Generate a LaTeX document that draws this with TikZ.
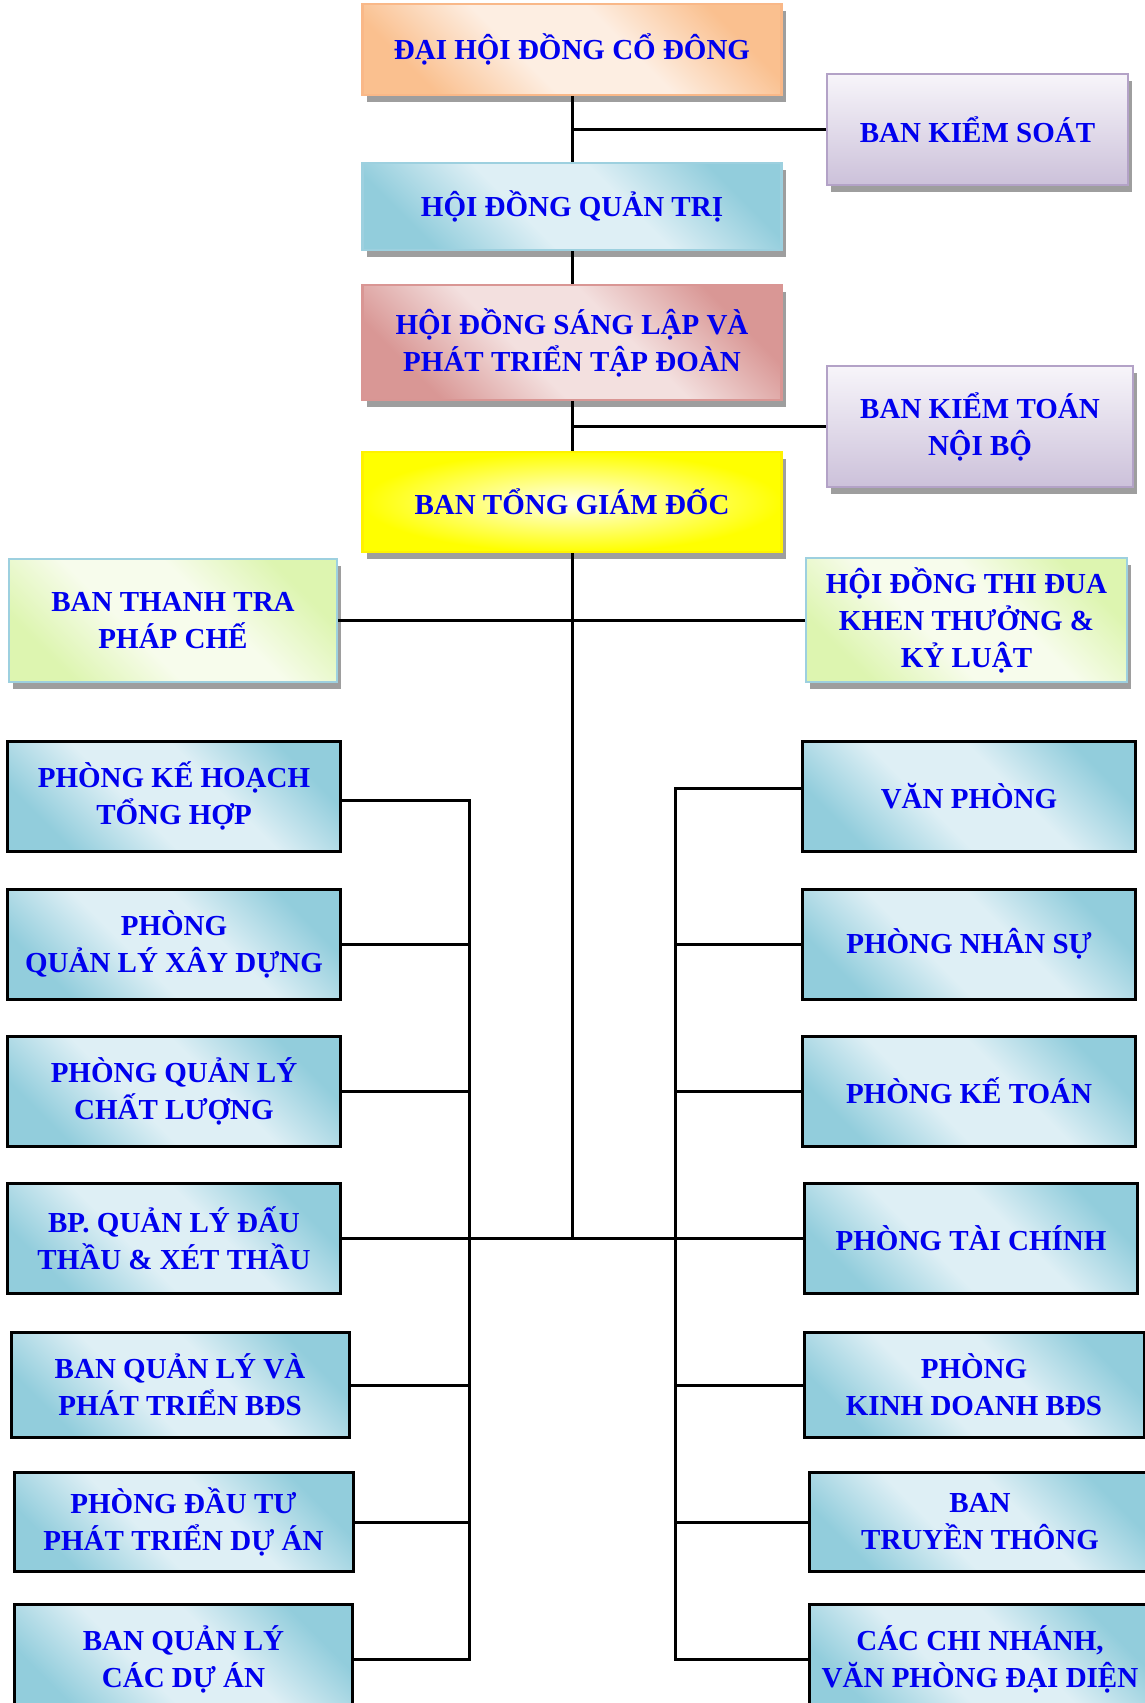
\documentclass[tikz,border=0pt]{standalone}
\usepackage{fontspec}
\setmainfont{Liberation Serif}
\usepackage{xcolor}
\usepackage{tikz}
\usetikzlibrary{shapes.geometric, shadows}
\definecolor{chuxanh}{HTML}{0000EE}
\definecolor{camdam}{HTML}{FAC08F}
\definecolor{camnhat}{HTML}{FDEEE2}
\definecolor{camvien}{HTML}{F9B888}
\definecolor{xanhdam}{HTML}{92CDDC}
\definecolor{xanhnhat}{HTML}{DEEFF5}
\definecolor{xanhvien}{HTML}{9DD0DF}
\definecolor{hongdam}{HTML}{D99795}
\definecolor{hongnhat}{HTML}{F3E0DF}
\definecolor{hongvien}{HTML}{D99694}
\definecolor{timdam}{HTML}{CCC1DA}
\definecolor{timnhat}{HTML}{F7F5FA}
\definecolor{timvien}{HTML}{B3A2C7}
\definecolor{ladam}{HTML}{DDF5B0}
\definecolor{lanhat}{HTML}{F7FCEC}
\pgfdeclareverticalshading{xanhbong}{100bp}{color(0bp)=(xanhdam); color(25bp)=(xanhdam); color(42bp)=(xanhnhat); color(58bp)=(xanhnhat); color(75bp)=(xanhdam); color(100bp)=(xanhdam)}
\pgfdeclareverticalshading{cambong}{100bp}{color(0bp)=(camdam); color(25bp)=(camdam); color(42bp)=(camnhat); color(58bp)=(camnhat); color(75bp)=(camdam); color(100bp)=(camdam)}
\pgfdeclareverticalshading{hongbong}{100bp}{color(0bp)=(hongdam); color(25bp)=(hongdam); color(42bp)=(hongnhat); color(58bp)=(hongnhat); color(75bp)=(hongdam); color(100bp)=(hongdam)}
\pgfdeclareverticalshading{labong}{100bp}{color(0bp)=(ladam); color(25bp)=(ladam); color(42bp)=(lanhat); color(58bp)=(lanhat); color(75bp)=(ladam); color(100bp)=(ladam)}
\tikzstyle{chu} = [align=center, text=chuxanh, font=\fontsize{14.5}{18.5}\selectfont\bfseries]
\tikzstyle{capcao} = [rectangle, chu, minimum width=209.5pt, line width=1.2pt, drop shadow={shadow xshift=2pt, shadow yshift=-3.5pt, fill=black!38, opacity=1}]
\tikzstyle{cam} = [capcao, draw=camvien, shade, shading=cambong, shading angle=-45]
\tikzstyle{xanh} = [capcao, draw=xanhvien, shade, shading=xanhbong, shading angle=-45]
\tikzstyle{hong} = [capcao, draw=hongvien, shade, shading=hongbong, shading angle=-45]
\tikzstyle{vang} = [capcao, draw=yellow, inner color=yellow!8, outer color=yellow]
\tikzstyle{tim} = [capcao, draw=timvien, top color=timnhat, bottom color=timdam]
\tikzstyle{la} = [capcao, draw=xanhvien, shade, shading=labong, shading angle=-45]
\tikzstyle{phongban} = [rectangle, chu, minimum width=166.5pt, minimum height=55pt, draw=black, line width=1.5pt, shade, shading=xanhbong, shading angle=-45]
\tikzstyle{noi} = [line width=1.5pt, black]

\begin{document}
\begin{tikzpicture}[node distance=73.5pt, x=0.5pt, y=-0.5pt]
	\useasboundingbox (0,0) rectangle (1145,1703);

	\node (dhdcd) [cam, minimum height=45.5pt] at (572,49.5) {ĐẠI HỘI ĐỒNG CỔ ĐÔNG};
	\node (hdqt) [xanh, minimum height=43.5pt, below of=dhdcd, yshift=-5pt] {HỘI ĐỒNG QUẢN TRỊ};
	\node (hdsl) [hong, minimum height=57.5pt, below of=hdqt, yshift=5.5pt] {HỘI ĐỒNG SÁNG LẬP VÀ\\PHÁT TRIỂN TẬP ĐOÀN};
	\node (btgd) [vang, minimum height=50pt, below of=hdsl, yshift=-6.25pt] {BAN TỔNG GIÁM ĐỐC};
	\node (bks) [tim, minimum width=150.5pt, minimum height=55.5pt] at (977.5,129.5) {BAN KIỂM SOÁT};
	\node (bktnb) [tim, minimum width=153pt, minimum height=60.5pt] at (980,426.5) {BAN KIỂM TOÁN\\NỘI BỘ};
	\node (bttpc) [la, minimum width=164pt, minimum height=61.5pt] at (173,620.5) {BAN THANH TRA\\PHÁP CHẾ};
	\node (hdtd) [la, minimum width=160.5pt, minimum height=62pt] at (966.5,620) {HỘI ĐỒNG THI ĐUA\\KHEN THƯỞNG \&\\KỶ LUẬT};

	\node (trai1) [phongban] at (174,796) {PHÒNG KẾ HOẠCH\\TỔNG HỢP};
	\node (trai2) [phongban, below of=trai1, yshift=-0.5pt] {PHÒNG\\QUẢN LÝ XÂY DỰNG};
	\node (trai3) [phongban, below of=trai2] {PHÒNG QUẢN LÝ\\CHẤT LƯỢNG};
	\node (trai4) [phongban, below of=trai3] {BP. QUẢN LÝ ĐẤU\\THẦU \& XÉT THẦU};
	\node (trai5) [phongban, below of=trai4, xshift=3pt, minimum width=169pt, minimum height=52.5pt] {BAN QUẢN LÝ VÀ\\PHÁT TRIỂN BĐS};
	\node (trai6) [phongban, below of=trai5, yshift=5pt, xshift=1.75pt, minimum width=169.5pt, minimum height=49.5pt] {PHÒNG ĐẦU TƯ\\PHÁT TRIỂN DỰ ÁN};
	\node (trai7) [phongban, below of=trai6, yshift=4.75pt, minimum width=169pt] {BAN QUẢN LÝ\\CÁC DỰ ÁN};

	\node (phai1) [phongban] at (969,796) {VĂN PHÒNG};
	\node (phai2) [phongban, below of=phai1, yshift=-0.5pt] {PHÒNG NHÂN SỰ};
	\node (phai3) [phongban, below of=phai2] {PHÒNG KẾ TOÁN};
	\node (phai4) [phongban, below of=phai3, xshift=1pt] {PHÒNG TÀI CHÍNH};
	\node (phai5) [phongban, below of=phai4, xshift=1.5pt, minimum width=170pt, minimum height=52.5pt] {PHÒNG\\KINH DOANH BĐS};
	\node (phai6) [phongban, below of=phai5, yshift=5pt, xshift=3pt, minimum width=171pt, minimum height=49.5pt] {BAN\\TRUYỀN THÔNG};
	\node (phai7) [phongban, below of=phai6, yshift=4.75pt, minimum width=171pt] {CÁC CHI NHÁNH,\\VĂN PHÒNG ĐẠI DIỆN};

	\coordinate (tructrai) at (469,0);
	\coordinate (trucphai) at (675,0);

	\draw [noi] (dhdcd) -- (hdqt);
	\draw [noi] (hdqt) -- (hdsl);
	\draw [noi] (hdsl) -- (btgd);
	\draw [noi] (btgd) -- (btgd |- trai4);
	\draw [noi] (bks) -- (bks -| dhdcd);
	\draw [noi] (bktnb) -- (bktnb -| hdsl);
	\draw [noi] (bttpc.east) -- (bttpc.east -| hdtd.west);
	\draw [noi] (trai4) -- (phai4);
	\draw [noi] ([yshift=-2pt]trai1.east) -| (trai7.east -| tructrai) -- (trai7.east);
	\draw [noi] (trai2.east) -- (trai2.east -| tructrai);
	\draw [noi] (trai3.east) -- (trai3.east -| tructrai);
	\draw [noi] (trai5.east) -- (trai5.east -| tructrai);
	\draw [noi] (trai6.east) -- (trai6.east -| tructrai);
	\draw [noi] ([yshift=4pt]phai1.west) -| (phai7.west -| trucphai) -- (phai7.west);
	\draw [noi] (phai2.west) -- (phai2.west -| trucphai);
	\draw [noi] (phai3.west) -- (phai3.west -| trucphai);
	\draw [noi] (phai5.west) -- (phai5.west -| trucphai);
	\draw [noi] (phai6.west) -- (phai6.west -| trucphai);
\end{tikzpicture}
\end{document}
